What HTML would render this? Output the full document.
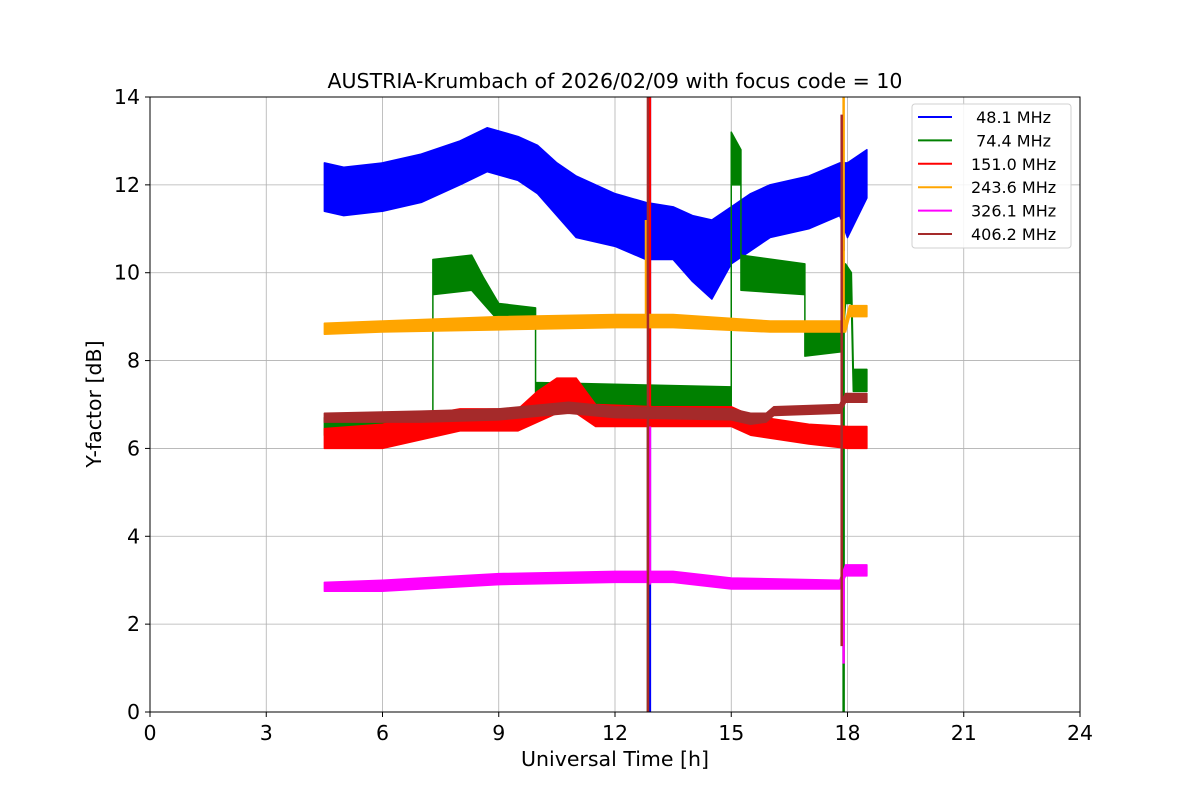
<!DOCTYPE html>
<html><head><meta charset="utf-8"><style>
html,body{margin:0;padding:0;background:#fff;}
svg{display:block;font-family:"DejaVu Sans","Liberation Sans",sans-serif;}
</style></head><body>
<svg id="chart" width="1200" height="800" viewBox="0 0 1200 800">
<rect width="1200" height="800" fill="#fff"/>
<text x="615" y="88" font-size="20.5" text-anchor="middle">AUSTRIA-Krumbach of 2026/02/09 with focus code = 10</text>
<g id="grid"></g><g id="series"></g>
<rect x="150" y="97" width="930" height="615" fill="none" stroke="#000" stroke-width="1"/>
<g id="axes"></g>
<text x="615" y="766" font-size="20.5" text-anchor="middle">Universal Time [h]</text>
<text transform="translate(101,404) rotate(-90)" font-size="20.5" text-anchor="middle">Y-factor [dB]</text>
<g id="legend"></g>
</svg>
<script>
const xTicks=[0,3,6,9,12,15,18,21,24];
const yTicks=[0,2,4,6,8,10,12,14];
const names=[" 48.1 MHz"," 74.4 MHz","151.0 MHz","243.6 MHz","326.1 MHz","406.2 MHz"];
const colors=["#0000ff","#008000","#ff0000","#ffa500","#ff00ff","#a52a2a"];
const blueT=[4.5,5,6,7,8,8.7,9.5,10,10.5,11,12,12.8,13.5,14,14.5,15,15.5,16,17,17.8,18,18.5];
const blueLo=[11.4,11.3,11.4,11.6,12.0,12.3,12.1,11.8,11.3,10.8,10.6,10.3,10.3,9.8,9.4,10.2,10.5,10.8,11.0,11.3,10.8,11.7];
const blueHi=[12.5,12.4,12.5,12.7,13.0,13.3,13.1,12.9,12.5,12.2,11.8,11.6,11.5,11.3,11.2,11.5,11.8,12.0,12.2,12.5,12.5,12.8];
const greenT=[4.5,7.3,7.3,8.3,8.6,9.0,9.95,9.95,15.0,15.0,15.25,15.25,16.9,16.9,17.85,17.95,18.1,18.15,18.5];
const greenLo=[6.3,6.4,9.5,9.6,9.3,8.9,8.9,6.8,6.9,12.0,12.0,9.6,9.5,8.1,8.2,9.3,9.3,7.3,7.3];
const greenHi=[6.7,6.8,10.3,10.4,9.9,9.3,9.2,7.5,7.4,13.2,12.8,10.4,10.2,8.7,8.8,10.2,10.0,7.8,7.8];
const redT=[4.5,6,7,8,9.5,10,10.5,11,11.5,13,15,15.5,17,18,18.5];
const redLo=[6.0,6.0,6.2,6.4,6.4,6.6,6.8,6.8,6.5,6.5,6.5,6.3,6.1,6.0,6.0];
const redHi=[6.45,6.55,6.75,6.9,6.9,7.3,7.6,7.6,7.0,6.95,6.95,6.75,6.55,6.5,6.5];
const orangeT=[4.5,6,9,12,13.5,16,17.95,18.05,18.5];
const orangeLo=[8.6,8.65,8.7,8.75,8.75,8.65,8.65,9.0,9.0];
const orangeHi=[8.85,8.9,9.0,9.05,9.05,8.9,8.9,9.25,9.25];
const magentaT=[4.5,6,7,9,12,13.5,15,17.8,17.95,18.05,18.5];
const magentaLo=[2.75,2.75,2.8,2.9,2.95,2.95,2.8,2.8,3.1,3.1,3.1];
const magentaHi=[2.95,3.0,3.05,3.15,3.2,3.2,3.05,3.0,3.35,3.35,3.35];
const brownT=[4.5,7,9,10.8,12,15,15.5,15.9,16.1,17.8,17.95,18.05,18.5];
const brownLo=[6.6,6.6,6.65,6.8,6.7,6.65,6.55,6.6,6.75,6.8,7.05,7.05,7.05];
const brownHi=[6.8,6.85,6.9,7.05,6.95,6.9,6.8,6.8,6.95,7.0,7.25,7.25,7.25];
const spikeSeries=[0,0,1,1,2,3,3,4,4,5,5];
const spikeTime=[12.9,17.9,12.85,17.9,12.9,12.8,17.9,12.9,17.9,12.85,17.85];
const spikeLow=[0,10.5,0,0,6.5,8.8,8.7,2.9,1.1,0,1.5];
const spikeHigh=[14,12.5,7.2,10,14,11.2,14,6.5,3.1,14,13.6];
const bands=[[blueT,blueLo,blueHi],[greenT,greenLo,greenHi],[redT,redLo,redHi],[orangeT,orangeLo,orangeHi],[magentaT,magentaLo,magentaHi],[brownT,brownLo,brownHi]];
const seriesNames=["series-48mhz","series-74mhz","series-151mhz","series-243mhz","series-326mhz","series-406mhz"];
const NS="http://www.w3.org/2000/svg";
const X=t=>150+t*930/24, Y=v=>712-v*615/14;
function mk(tag,attrs,parent){const e=document.createElementNS(NS,tag);for(const k in attrs)e.setAttribute(k,attrs[k]);parent.appendChild(e);return e;}
const grid=document.getElementById('grid'),axes=document.getElementById('axes');
xTicks.forEach(t=>{
  const g=mk('line',{x1:X(t),x2:X(t),y1:97,y2:712,stroke:'#b0b0b0','stroke-width':0.8},grid);
  
  
  mk('line',{x1:X(t),x2:X(t),y1:712,y2:717,stroke:'#000'},axes);
  const l=mk('text',{x:X(t),y:740,'font-size':20.5,'text-anchor':'middle'},axes);l.textContent=t;
  
  
});
yTicks.forEach(v=>{
  const g=mk('line',{x1:150,x2:1080,y1:Y(v),y2:Y(v),stroke:'#b0b0b0','stroke-width':0.8},grid);
  
  
  mk('line',{x1:145,x2:150,y1:Y(v),y2:Y(v),stroke:'#000'},axes);
  const l=mk('text',{x:140,y:Y(v)+7,'font-size':20.5,'text-anchor':'end'},axes);l.textContent=v;
  
  
});
const sg=document.getElementById('series');
bands.forEach((b,i)=>{
  const [T,L,H]=b;
  let pts=T.map((t,j)=>X(t)+','+Y(H[j]));
  for(let j=T.length-1;j>=0;j--)pts.push(X(T[j])+','+Y(L[j]));
  const p=mk('polygon',{points:pts.join(' '),fill:colors[i],stroke:colors[i],'stroke-width':1.5,'stroke-linejoin':'round'},sg);
  
  
  spikeSeries.forEach((s,k)=>{if(s!==i)return;
    const sp=mk('line',{x1:X(spikeTime[k]),x2:X(spikeTime[k]),y1:Y(spikeLow[k]),y2:Y(spikeHigh[k]),stroke:colors[i],'stroke-width':2.5},sg);
    
    
  });
});
const lg=document.getElementById('legend');
const box=mk('rect',{x:912,y:104,width:159,height:144,rx:3,fill:'#fff','fill-opacity':0.85,stroke:'#d0d0d0'},lg);


names.forEach((n,i)=>{
  const y=117+i*23.4;
  const ln=mk('line',{x1:918,x2:952,y1:y,y2:y,stroke:colors[i],'stroke-width':2},lg);
  
  
  const t=mk('text',{x:971,y:y+6,'font-size':16,'text-anchor':'start'},lg);
  t.setAttributeNS('http://www.w3.org/XML/1998/namespace','xml:space','preserve');
  t.style.whiteSpace='pre';
  t.textContent=n;
  
  
});
</script>
</body></html>
